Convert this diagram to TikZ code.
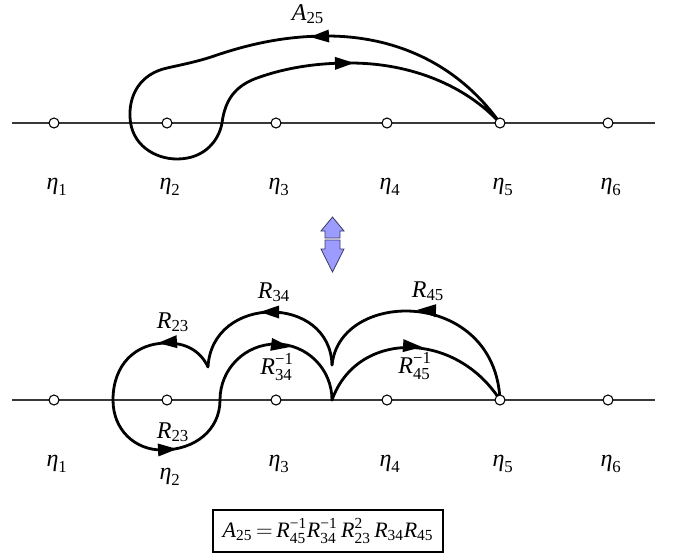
\documentclass[tikz,border=0pt]{standalone}
\usepackage{fontspec}
\usepackage{amsmath}
\setmainfont{Liberation Serif}
\newcommand{\Sb}[2]{\ensuremath{\textit{#1}_{\text{#2}}}}
\newcommand{\Sp}[3]{\ensuremath{\textit{#1}^{\text{#2}}_{\text{#3}}}}
\definecolor{dblfill}{HTML}{9C9CFF}
\definecolor{dblline}{HTML}{3A3A6A}
\begin{document}
\begin{tikzpicture}[x=0.75pt,y=-0.75pt,
  axisline/.style={draw=black!78, line width=1pt},
  hole/.style={circle, draw=black, fill=white, line width=0.8pt, minimum size=7.5pt, inner sep=0pt},
  curve/.style={draw=black, line width=2.1pt, line cap=round, line join=round},
  lbl/.style={font=\fontsize{18}{21}\selectfont, inner sep=0pt},
  dblarrow/.style={fill=dblfill, draw=dblline, line width=0.6pt, line join=miter},
  ahd/.pic={\fill[black] (0,0) -- (-19,-6.5) -- (-19,6.5) -- cycle;}]
\useasboundingbox (0,0) rectangle (683,557);
% ---------- top diagram ----------
\coordinate (tL) at (12,123);
\coordinate (tR) at (655,123);
\foreach \i/\x in {1/54,2/167,3/276,4/387,5/500,6/608} {\coordinate (c\i) at (\x,123);}
\draw[axisline] (tL) -- (tR);
\draw[curve] (c5) .. controls (455,60) and (390,36) .. (327,36)
  .. controls (285,36) and (250,44) .. (217,55)
  .. controls (200,61) and (185,64) .. (167,68)
  .. controls (140,74) and (129,95) .. (130,117)
  .. controls (131,145) and (155,159) .. (177,159)
  .. controls (205,159) and (219,140) .. (222,123)
  .. controls (225,100) and (235,86) .. (257,78)
  .. controls (285,68) and (315,63) .. (350,63)
  .. controls (410,63) and (465,85) .. (c5);
\pic[rotate=183] at (310,37) {ahd};
\pic[rotate=1] at (354,63) {ahd};
\foreach \i in {1,...,6} {\node[hole] (t\i) at (c\i) {};}
\node[lbl] (A) at (308,14) {\Sb{A}{25}};
\foreach \i/\x in {1/57,2/170,3/279,4/390,5/503,6/611} {\node[lbl] (te\i) at (\x,187) {\Sb{η}{\i}};}
% ---------- double arrow ----------
\draw[dblarrow] (332.5,217) -- (344,231) -- (340,231) -- (340,238) -- (325,238) -- (325,231) -- (321,231) -- cycle;
\draw[dblarrow] (325,240) -- (340,240) -- (340,249) -- (344,249) -- (332.5,272) -- (321,249) -- (325,249) -- cycle;
% ---------- bottom diagram ----------
\coordinate (bL) at (12,400);
\coordinate (bR) at (655,400);
\foreach \i/\x in {1/54,2/167,3/276,4/387,5/500,6/608} {\coordinate (d\i) at (\x,400);}
\coordinate (cuspB) at (332,365);
\coordinate (cuspA) at (208,367);
\coordinate (cuspC) at (332,400);
\draw[axisline] (bL) -- (bR);
\draw[curve] (d5) .. controls (495,288) and (340,288) .. (cuspB);
\draw[curve] (cuspB) .. controls (330,294) and (212,294) .. (cuspA);
\draw[curve] (cuspA) .. controls (200,350) and (185,343) .. (167,343)
  .. controls (135,343) and (113,365) .. (113,400)
  .. controls (113,430) and (135,450) .. (162,450)
  .. controls (195,450) and (220,430) .. (220,400)
  .. controls (220,369) and (245,344) .. (276,344)
  .. controls (307,344) and (332,369) .. (cuspC);
\draw[curve] (cuspC) .. controls (357,330) and (455,330) .. (d5);
\pic[rotate=178] at (417,310) {ahd};
\pic[rotate=180] at (260,312) {ahd};
\pic[rotate=184] at (158,343) {ahd};
\pic[rotate=3] at (177,449) {ahd};
\pic[rotate=-8] at (290,347) {ahd};
\pic[rotate=-4] at (422,347) {ahd};
\foreach \i in {1,...,6} {\node[hole] (b\i) at (d\i) {};}
\node[lbl] (r23a) at (173,322) {\Sb{R}{23}};
\node[lbl] (r34a) at (274,292) {\Sb{R}{34}};
\node[lbl] (r45a) at (428,291) {\Sb{R}{45}};
\node[lbl] (r34b) at (277,367) {\Sp{R}{−1}{34}};
\node[lbl] (r45b) at (415,366) {\Sp{R}{−1}{45}};
\node[lbl] (r23b) at (173,432) {\Sb{R}{23}};
\foreach \i/\x/\y in {1/57/464,2/170/477,3/279/464,4/390/464,5/503/464,6/611/464} {\node[lbl] (be\i) at (\x,\y) {\Sb{η}{\i}};}
% ---------- formula ----------
\node[draw=black, line width=0.8pt, fill=white, minimum width=172.5pt, minimum height=31.5pt, inner sep=1pt, font=\fontsize{16.5}{20}\selectfont] (eq) at (328,531)
  {\Sb{A}{25}$\,=\,$\Sp{R}{−1}{45}\Sp{R}{−1}{34}\,\Sp{R}{2}{23}\,\Sb{R}{34}\Sb{R}{45}};
\end{tikzpicture}
\end{document}
